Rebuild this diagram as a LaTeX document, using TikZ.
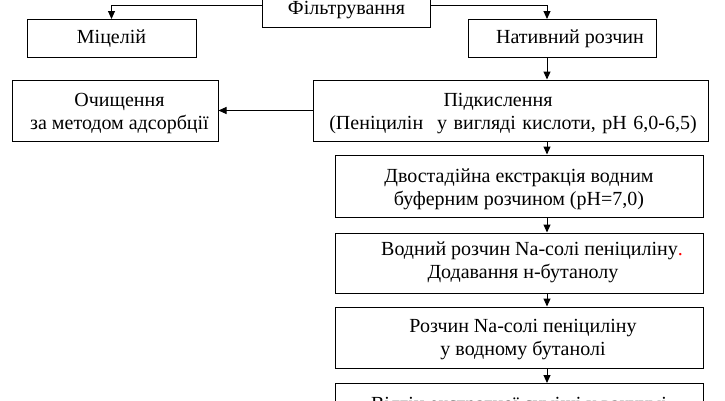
\documentclass[tikz,border=0pt]{standalone}
\usepackage{fontspec}
\setmainfont{Liberation Serif}
\usetikzlibrary{arrows.meta}
\newcommand\dfont{\fontsize{20}{23}\selectfont}
\newcommand\topst{\rule{0pt}{20pt}}
\newcommand\botst[1][5pt]{\rule[-#1]{0pt}{#1}}
\newcommand\wsp{\hspace{6.5pt}}
\begin{document}
\begin{tikzpicture}[x=1pt,y=-1pt,
 box/.style={draw, line width=1pt, align=center, font=\dfont, inner sep=0pt},
 arr/.style={line width=1pt, -{Triangle[length=8pt,width=7pt]}}]
\useasboundingbox (0,0) rectangle (725,400);
\clip (0,0) rectangle (725,400);
\coordinate (sp) at (547,0);
\coordinate (fy) at (0,5);
\node[box, minimum width=168pt, minimum height=33pt] (filt) at (346.5,10.5) {Фільтрування};
\node[box, minimum width=169pt, minimum height=38pt] (mic) at (111.5,38.5) {Міцелій};
\node[box, minimum width=188pt, minimum height=38pt] (nat) at (562,38.5) {\hspace*{16pt}Нативний розчин};
\node[box, minimum width=206pt, minimum height=61pt] (och) at (115,110.5) {\topst\hspace*{9pt}Очищення\\\hspace*{9pt}за методом адсорбції\botst};
\node[box, minimum width=395pt, minimum height=61pt] (pid) at (510.5,110.5) {\topst Підкислення\hspace*{25pt}\\\hspace*{5pt}(Пеніцилін\hspace{14pt}у\wsp вигляді\wsp кислоти,\wsp рН\wsp 6,0-6,5)\botst};
\node[box, minimum width=368pt, minimum height=62pt] (dvo) at (519,186) {\topst Двостадійна екстракція водним\\буферним розчином (pH=7,0)\botst};
\node[box, minimum width=368pt, minimum height=60pt] (vod) at (519,263) {\topst\hspace*{26pt}Водний розчин Na-солі пеніциліну\textcolor{red}{.}\\\hspace*{8pt}Додавання н-бутанолу\botst[13pt]};
\node[box, minimum width=368pt, minimum height=61pt] (roz) at (519,337.5) {\topst\hspace*{8pt}Розчин Na-солі пеніциліну\\\hspace*{8pt}у водному бутанолі\botst[7pt]};
\node[box, anchor=north, minimum width=368pt, minimum height=61pt] (vid) at (519,383) {\topst Відгін екстрагної суміші у вакуумі\\\botst};
\draw[arr] (filt.west |- fy) -| (mic.north);
\draw[arr] (filt.east |- fy) -| (nat.north -| sp);
\draw[arr] (nat.south -| sp) -- (pid.north -| sp);
\draw[arr] (pid.west) -- (och.east);
\draw[arr] (pid.south -| sp) -- (dvo.north -| sp);
\draw[arr] (dvo.south -| sp) -- (vod.north -| sp);
\draw[arr] (vod.south -| sp) -- (roz.north -| sp);
\draw[arr] (roz.south -| sp) -- (vid.north -| sp);
\end{tikzpicture}
\end{document}
